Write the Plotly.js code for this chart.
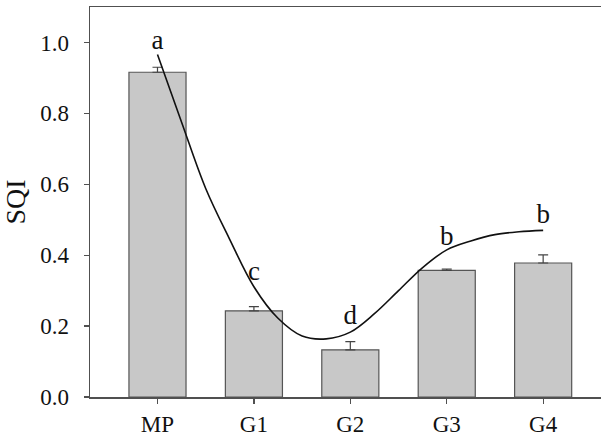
<!DOCTYPE html>
<html>
<head>
<meta charset="utf-8">
<script src="https://cdn.plot.ly/plotly-3.0.1.min.js"></script>
<style>html,body{margin:0;padding:0;background:#fff;overflow:hidden;}</style>
</head>
<body>
<div id="chart" style="width:601px;height:436px;"></div>
<script>
// Data
const categories = ["MP", "G1", "G2", "G3", "G4"];
const sqiValues = [0.916, 0.243, 0.133, 0.357, 0.378];
const sqiErrors = [0.014, 0.012, 0.023, 0.004, 0.023];
const letters = ["a", "c", "d", "b", "b"];
const letterY = [1.0, 0.35, 0.226, 0.449, 0.511];
// fitted curve
const curveX = [0, 0.25, 0.5, 0.75, 1.0, 1.25, 1.5, 1.75, 2.0, 2.25, 2.5, 2.75, 3.0, 3.25, 3.5, 3.75, 4.0];
const curveY = [0.966, 0.775, 0.588, 0.444, 0.311, 0.222, 0.172, 0.164, 0.183, 0.235, 0.300, 0.365, 0.415, 0.440, 0.458, 0.466, 0.470];

const idx = categories.map((c, i) => i);
const serif = "Liberation Serif";

const traces = [
  {
    type: "bar",
    x: idx,
    y: sqiValues,
    width: 0.592,
    marker: {color: "#c8c8c8", line: {color: "#555555", width: 1.2}},
    error_y: {type: "data", symmetric: false, array: sqiErrors, arrayminus: sqiErrors.map(() => 0),
              color: "#444444", thickness: 1.2, width: 5},
    hoverinfo: "none",
    showlegend: false
  },
  {
    type: "scatter",
    mode: "lines",
    x: curveX,
    y: curveY,
    line: {color: "#111111", width: 1.6, shape: "spline", smoothing: 1},
    hoverinfo: "none",
    showlegend: false
  },
  {
    type: "scatter",
    mode: "text",
    x: idx,
    y: letterY,
    text: letters,
    textposition: "middle center",
    textfont: {family: serif, size: 27, color: "#111111"},
    hoverinfo: "none",
    showlegend: false
  }
];

const layout = {
  width: 601,
  height: 436,
  margin: {l: 90, r: 0, t: 7, b: 39},
  paper_bgcolor: "#ffffff",
  plot_bgcolor: "#ffffff",
  font: {family: serif},
  bargap: 0,
  xaxis: {
    range: [-0.70, 4.60],
    tickvals: idx,
    ticktext: categories,
    showgrid: false,
    zeroline: false,
    showline: true,
    mirror: true,
    linecolor: "#505050",
    linewidth: 1.5,
    ticks: "outside",
    ticklen: 5,
    tickwidth: 1.2,
    tickcolor: "#505050",
    ticklabelstandoff: 1,
    tickfont: {family: serif, size: 23, color: "#111111"},
    fixedrange: true
  },
  yaxis: {
    range: [0, 1.1],
    tickvals: [0, 0.2, 0.4, 0.6, 0.8, 1.0],
    ticktext: ["0.0", "0.2", "0.4", "0.6", "0.8", "1.0"],
    showgrid: false,
    zeroline: false,
    showline: true,
    mirror: false,
    linecolor: "#505050",
    linewidth: 1.5,
    ticks: "outside",
    ticklen: 5,
    tickwidth: 1.2,
    tickcolor: "#505050",
    ticklabelstandoff: 10,
    tickfont: {family: serif, size: 23, color: "#111111"},
    title: {text: "SQI", font: {family: serif, size: 28, color: "#111111"}, standoff: 10},
    fixedrange: true
  }
};

Plotly.newPlot("chart", traces, layout, {displayModeBar: false, staticPlot: true});
</script>
</body>
</html>
